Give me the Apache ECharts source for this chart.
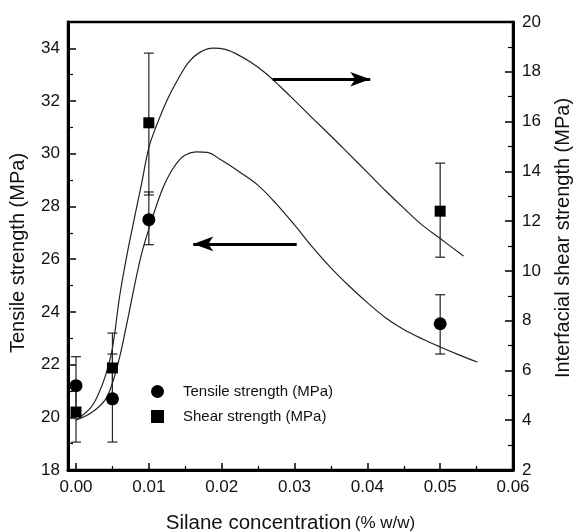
<!DOCTYPE html>
<html>
<head>
<meta charset="utf-8">
<script src="https://cdn.jsdelivr.net/npm/echarts@6/dist/echarts.min.js"></script>
<style>html,body{margin:0;padding:0;background:#fff}#c{width:575px;height:531px}</style>
</head>
<body>
<div id="c"></div>
<script>
// ---- data ----
const conc = [0, 0.005, 0.01, 0.05];
const tensile = [21.2, 20.7, 27.5, 23.55];
const tensileLow = [20.1, 19.06, 26.55, 22.4];
const tensileHigh = [22.3, 22.4, 28.55, 24.65];
const shear = [4.33, 6.1, 15.95, 12.4];
const shearLow = [3.12, 4.7, 13.05, 10.55];
const shearHigh = [5.5, 7.5, 18.75, 14.33];

// fitted curves
const tensileFitX = [0, 0.002, 0.004, 0.005, 0.006, 0.007, 0.008, 0.009, 0.010, 0.011, 0.012, 0.013, 0.014, 0.015, 0.0165, 0.018, 0.020, 0.0225, 0.025, 0.0275, 0.030, 0.0325, 0.035, 0.0375, 0.040, 0.0425, 0.045, 0.0475, 0.050, 0.0525, 0.0551];
const tensileFitY = [19.9, 20.15, 20.66, 21.3, 22.29, 23.58, 24.95, 26.2, 27.15, 28.0, 28.75, 29.3, 29.7, 29.95, 30.07, 30.05, 29.75, 29.3, 28.8, 28.1, 27.3, 26.45, 25.67, 24.98, 24.35, 23.78, 23.33, 22.98, 22.67, 22.38, 22.1];
const shearFitX = [0, 0.002, 0.003, 0.004, 0.005, 0.006, 0.007, 0.008, 0.009, 0.010, 0.011, 0.0125, 0.014, 0.0155, 0.017, 0.0188, 0.0205, 0.022, 0.024, 0.026, 0.028, 0.030, 0.0325, 0.035, 0.0375, 0.040, 0.0425, 0.045, 0.0475, 0.050, 0.0532];
const shearFitY = [4.0, 4.5, 5.0, 5.75, 6.9, 9.0, 10.65, 12.1, 13.5, 14.95, 15.8, 16.86, 17.7, 18.4, 18.78, 18.95, 18.9, 18.72, 18.38, 17.95, 17.42, 16.85, 16.13, 15.42, 14.69, 13.96, 13.22, 12.52, 11.85, 11.3, 10.6];

const xTicks = [0, 0.01, 0.02, 0.03, 0.04, 0.05, 0.06];
const xMinorTicks = [0.005, 0.015, 0.025, 0.035, 0.045, 0.055];
const leftTicks = [18, 20, 22, 24, 26, 28, 30, 32, 34];
const leftMinorTicks = [19, 21, 23, 25, 27, 29, 31, 33];
const rightTicks = [2, 4, 6, 8, 10, 12, 14, 16, 18, 20];
const rightMinorTicks = [3, 5, 7, 9, 11, 13, 15, 17, 19];

const leftArrow = [[0.0303, 26.58], [0.0161, 26.58]];
const rightArrow = [[0.0270, 17.7], [0.0404, 17.7]];

const FONT = "'Liberation Sans', Arial, sans-serif";
const zip = (a, b) => a.map((v, i) => [v, b[i]]);

function errBar(params, api) {
  const x = api.value(0);
  const p1 = api.coord([x, api.value(1)]);
  const p2 = api.coord([x, api.value(2)]);
  const w = 5;
  const st = { stroke: '#222', lineWidth: 1.2 };
  return {
    type: 'group',
    children: [
      { type: 'line', shape: { x1: p1[0], y1: p1[1], x2: p2[0], y2: p2[1] }, style: st },
      { type: 'line', shape: { x1: p1[0] - w, y1: p1[1], x2: p1[0] + w, y2: p1[1] }, style: st },
      { type: 'line', shape: { x1: p2[0] - w, y1: p2[1], x2: p2[0] + w, y2: p2[1] }, style: st }
    ]
  };
}

const chart = echarts.init(document.getElementById('c'), null, { renderer: 'canvas' });
const axisLine = { show: true, onZero: false, lineStyle: { color: '#000', width: 3 } };
const labelStyle = { color: '#111', fontSize: 17, fontFamily: FONT };

const option = {
  animation: false,
  backgroundColor: '#fff',
  textStyle: { fontFamily: FONT },
  grid: { left: 68, right: 62, top: 22, bottom: 61, show: true, borderColor: '#000', borderWidth: 2.5, containLabel: false, outerBoundsMode: 'none' },
  legend: {
    orient: 'vertical', left: 146, top: 379, itemWidth: 13, itemHeight: 13, itemGap: 10,
    textStyle: { fontSize: 15, color: '#111', fontFamily: FONT, padding: [0, 0, 0, 14] },
    data: [{ name: 'Tensile strength (MPa)', icon: 'circle' }, { name: 'Shear strength (MPa)', icon: 'rect' }]
  },
  xAxis: [
    {
      type: 'value', min: -0.0011, max: 0.06,
      axisLine: axisLine,
      axisTick: { show: true, inside: true, length: 7, customValues: xTicks, lineStyle: { color: '#000', width: 1.5 } },
      axisLabel: { customValues: xTicks, formatter: v => v.toFixed(2), margin: 9, ...labelStyle },
      splitLine: { show: false },
      name: '{a|Silane concentration} {b|(% w/w)}', nameLocation: 'middle', nameGap: 43,
      nameTextStyle: { rich: { a: { fontSize: 20.5, fontFamily: FONT, color: '#111' }, b: { fontSize: 17, fontFamily: FONT, color: '#111' } } }
    },
    {
      type: 'value', min: -0.0011, max: 0.06, position: 'bottom',
      axisLine: { show: false, onZero: false },
      axisTick: { show: true, inside: true, length: 4, customValues: xMinorTicks, lineStyle: { color: '#000', width: 1.2 } },
      axisLabel: { show: false }, splitLine: { show: false }
    }
  ],
  yAxis: [
    {
      type: 'value', min: 18, max: 35, position: 'left',
      axisLine: axisLine,
      axisTick: { show: true, inside: true, length: 8, customValues: leftTicks, lineStyle: { color: '#000', width: 1.5 } },
      axisLabel: { customValues: leftTicks, margin: 8, ...labelStyle },
      splitLine: { show: false },
      name: 'Tensile strength (MPa)', nameLocation: 'middle', nameRotate: 90, nameGap: 40,
      nameTextStyle: { fontSize: 20, fontFamily: FONT, color: '#111', padding: [0, 14, 0, 0] }
    },
    {
      type: 'value', min: 2, max: 20, position: 'right',
      axisLine: axisLine,
      axisTick: { show: true, inside: true, length: 8, customValues: rightTicks, lineStyle: { color: '#000', width: 1.5 } },
      axisLabel: { customValues: rightTicks, margin: 9, ...labelStyle },
      splitLine: { show: false },
      name: 'Interfacial shear strength (MPa)', nameLocation: 'middle', nameRotate: 90, nameGap: 40,
      nameTextStyle: { fontSize: 20, fontFamily: FONT, color: '#111', padding: [0, 0, 0, 16] }
    },
    {
      type: 'value', min: 18, max: 35, position: 'left',
      axisLine: { show: false, onZero: false },
      axisTick: { show: true, inside: true, length: 5, customValues: leftMinorTicks, lineStyle: { color: '#000', width: 1.2 } },
      axisLabel: { show: false }, splitLine: { show: false }
    },
    {
      type: 'value', min: 2, max: 20, position: 'right',
      axisLine: { show: false, onZero: false },
      axisTick: { show: true, inside: true, length: 5, customValues: rightMinorTicks, lineStyle: { color: '#000', width: 1.2 } },
      axisLabel: { show: false }, splitLine: { show: false }
    }
  ],
  series: [
    {
      type: 'line', name: 'tensileFit', yAxisIndex: 0, data: zip(tensileFitX, tensileFitY),
      smooth: 0.35, showSymbol: false, lineStyle: { color: '#222', width: 1.2 }, silent: true,
      markLine: {
        silent: true, symbol: ['none', 'arrow'], symbolSize: [11, 20], label: { show: false },
        lineStyle: { color: '#000', width: 3, type: 'solid' },
        data: [[{ coord: leftArrow[0] }, { coord: leftArrow[1] }]]
      }
    },
    {
      type: 'line', name: 'shearFit', yAxisIndex: 1, data: zip(shearFitX, shearFitY),
      smooth: 0.35, showSymbol: false, lineStyle: { color: '#222', width: 1.2 }, silent: true,
      markLine: {
        silent: true, symbol: ['none', 'arrow'], symbolSize: [11, 20], label: { show: false },
        lineStyle: { color: '#000', width: 3, type: 'solid' },
        data: [[{ coord: rightArrow[0] }, { coord: rightArrow[1] }]]
      }
    },
    {
      type: 'custom', name: 'tensileErr', yAxisIndex: 0, renderItem: errBar,
      encode: { x: 0, y: [1, 2] }, data: conc.map((x, i) => [x, tensileLow[i], tensileHigh[i]]), silent: true
    },
    {
      type: 'custom', name: 'shearErr', yAxisIndex: 1, renderItem: errBar,
      encode: { x: 0, y: [1, 2] }, data: conc.map((x, i) => [x, shearLow[i], shearHigh[i]]), silent: true
    },
    {
      type: 'scatter', name: 'Tensile strength (MPa)', yAxisIndex: 0, symbol: 'circle', symbolSize: 13,
      itemStyle: { color: '#000', opacity: 1 }, data: zip(conc, tensile), z: 5
    },
    {
      type: 'scatter', name: 'Shear strength (MPa)', yAxisIndex: 1, symbol: 'rect', symbolSize: 11,
      itemStyle: { color: '#000', opacity: 1 }, data: zip(conc, shear), z: 5
    }
  ]
};
chart.setOption(option);
</script>
</body>
</html>
